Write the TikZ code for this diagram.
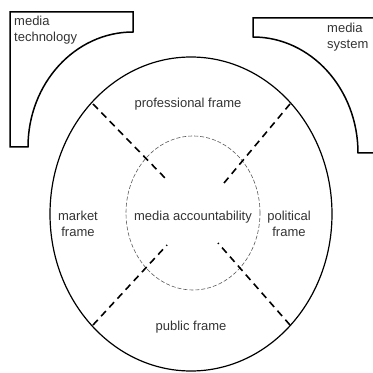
\documentclass[tikz,border=0pt]{standalone}
\usepackage{fontspec}
\setmainfont{Liberation Sans}
\usepackage{tikz}
\definecolor{textgray}{rgb}{0.2,0.2,0.2}

\begin{document}
\begin{tikzpicture}[x=1pt,y=1pt,
  corner box/.style={draw,line width=1.5pt,line join=miter},
  rim/.style={draw,line width=1.2pt},
  core/.style={draw,black!65,line width=0.6pt,dash pattern=on 4pt off 2pt},
  divider/.style={draw,line width=1.6pt,dash pattern=on 7pt off 5pt},
  frame node/.style={font=\fontsize{13}{16}\selectfont,text=textgray,align=center,inner sep=0pt}]
  \clip (0,0) rectangle (373,373);

  % the two outside influences in the corners
  \draw[corner box] (10,361) -- (133,361) -- (133,341)
    arc[start angle=90,end angle=180,x radius=105,y radius=115]
    -- (10,226) -- cycle;
  \draw[corner box] (390,355) -- (253,355) -- (253,336)
    arc[start angle=90,end angle=0,x radius=105,y radius=116]
    -- (390,220);

  % frames and the accountability core
  \draw[rim] (191,159) ellipse[x radius=141,y radius=157];
  \draw[core] (193,160) ellipse[x radius=67,y radius=77];

  \coordinate (ul) at (93,269);   \coordinate (ulin) at (167,193);
  \coordinate (ur) at (290,269);  \coordinate (urin) at (224,190);
  \coordinate (ll) at (93,48);    \coordinate (llin) at (167,128);
  \coordinate (lr) at (290,48);   \coordinate (lrin) at (218,130);
  \draw[divider] (ul) -- (ulin);
  \draw[divider] (ur) -- (urin);
  \draw[divider] (ll) -- (llin);
  \draw[divider] (lr) -- (lrin);

  \node[frame node,align=left,anchor=west] (tech) at (14,343) {media\\technology};
  \node[frame node,align=left,anchor=west] (sys) at (327,336) {media\\system};
  \node[frame node] (prof) at (188,269) {professional frame};
  \node[frame node] (market) at (78,149) {market\\frame};
  \node[frame node] (acc) at (193,156) {media accountability};
  \node[frame node] (pol) at (289,149) {political\\frame};
  \node[frame node] (pub) at (191,46) {public frame};
\end{tikzpicture}
\end{document}
